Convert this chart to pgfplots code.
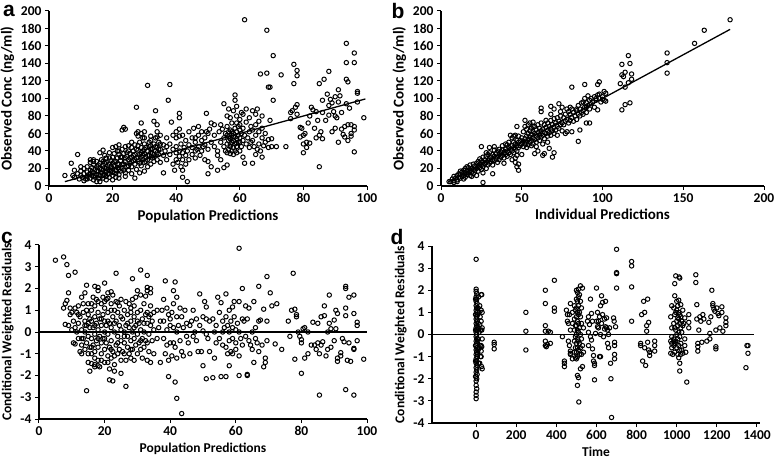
\documentclass[border=0pt]{standalone}
\usepackage{pgfplots}
\pgfplotsset{compat=1.18}
\usepackage{fontspec}
\setmainfont{Carlito}
\newfontfamily\letterfont{Liberation Sans}
\pgfplotsset{
  panel/.style={
    scale only axis,
    axis lines=left,
    axis line style={-, line width=1.3pt},
    tick style={line width=1pt, black},
    major tick length=4pt,
    tick align=outside,
    minor tick num=0,
    ticklabel style={font=\fontsize{13.5}{13.5}\selectfont\bfseries},
    /pgf/number format/assume math mode=true,
    /pgf/number format/1000 sep={},
    clip=false,
  },
  dots/.style={only marks, mark=o, mark size=2.2pt, line width=1.0pt, black},
}
\begin{document}
\begin{tikzpicture}[x=1pt,y=1pt]
\useasboundingbox (0,0) rectangle (774,461);
% ---------------- panel a
\begin{axis}[panel, at={(49pt,275pt)}, anchor=south west, width=318pt, height=175pt,
  xmin=0, xmax=100, ymin=0, ymax=200, xtick={0,20,...,100}, ytick={0,20,...,200},
  xlabel={Population Predictions}, ylabel={Observed Conc (ng/ml)},
  label style={font=\fontsize{15}{15}\selectfont\bfseries}]
\addplot[dots] coordinates {
(5,12) (7,26) (9,36) (8,10) (9,14) (9.5,8) (10,12) (10,17) (10.5,10) (11,14) (11,20) (11.5,8) (12,11) (12,16) (12,22) (8,18) (7.5,12) (10,22)
(12.5,13) (13,9) (13,18) (13,27) (13.5,12) (13.5,21) (14,7) (14,15) (14,24) (14,30) (14.5,10) (14.5,19) (15,5) (15,13) (15,22) (15,28) (15.5,9) (15.5,17) (16,12) (16,20) (16,26) (16,5) (14,28) (13,30)
(16.5,15) (16.5,30) (17,9) (17,18) (17,24) (17,41) (17.5,13) (17.5,21) (17.5,35) (18,11) (18,16) (18,27) (18,32) (18.5,19) (18.5,23) (19,10) (19,14) (19,25) (19,38) (19.5,17) (19.5,29) (20,12) (20,20) (20,26) (20,33) (20,44) (18,7) (16,38) (19,32) (17,28)
(20.5,15) (20.5,23) (20.5,37) (21,10) (21,18) (21,28) (21,45) (21.5,21) (21.5,32) (21.5,40) (22,13) (22,25) (22,36) (22,47) (22.5,17) (22.5,29) (23,20) (23,33) (23,42) (23,64) (23.5,25) (23.5,37) (23.5,67) (24,15) (24,28) (24,45) (24,65) (24.5,22) (24.5,34) (25,18) (25,30) (25,40) (25,46) (22,9) (24,11) (20,7)
(25.5,26) (25.5,37) (26,14) (26,22) (26,33) (26,44) (26.5,29) (26.5,40) (27,9) (27,25) (27,36) (27,47) (27.5,19) (27.5,32) (27.5,60) (27.5,90) (28,28) (28,41) (28,62) (28.5,15) (28.5,36) (28.5,50) (29,23) (29,33) (29,44) (29,72) (29.5,30) (29.5,40) (29.5,55) (30,17) (30,27) (30,37) (30,48) (30,62) (28,57) (29,60)
(30.5,33) (30.5,44) (31,22) (31,30) (31,40) (31,115) (31.5,35) (31.5,50) (32,25) (32,38) (32,46) (32,57) (32.5,32) (32.5,43) (33,28) (33,36) (33,48) (33,74) (33.5,40) (33.5,55) (33.5,86) (34,30) (34,44) (34,62) (34,70) (34.5,36) (34.5,50) (35,27) (35,42) (35,58) (36,15) (36,35) (36,47)
(11,6) (12,8) (13,14) (13.5,16) (14.5,12) (15,17) (15.5,24) (16,9) (16.5,19) (17,12) (17.5,26) (18,20) (18.5,14) (19,18) (19.5,22) (20,16) (20.5,28) (21,14) (21.5,25) (22,19) (22.5,33) (23,24) (23.5,18) (24,32) (24.5,38) (25,23) (25.5,32) (26,28) (26.5,35) (27,30) (27.5,42) (28,33) (28.5,26) (29,38) (29.5,35) (30,42) (30.5,28) (31,35) (31.5,45) (32,42) (32.5,37) (33,33) (33.5,45) (34,38) (34.5,42) (35,48) (22,40) (26,50) (28,46) (30,55) (32,52) (34,56)
(36.5,40) (37,30) (37,45) (37,55) (37.5,98) (38,116) (38,36) (38,48) (38.5,73) (39,25) (39,42) (39,58) (39.5,18) (40,30) (40,38) (40,45) (40,55) (40.5,27) (41,34) (41,40) (41,65) (41,78) (41,83) (41.5,22) (41.5,48) (42,10) (42,30) (42,38) (42,58) (42.5,44) (43,25) (43,35) (43,52) (43.5,5) (43.5,40) (44,30) (44,47) (44,62) (45,36) (45,44) (45,55) (41,57) (40,62) (42,18)
(45.5,66) (46,32) (46,40) (46,50) (46.5,42) (47,45) (47,58) (47,68) (47.5,35) (48,40) (48,52) (48,62) (48.5,45) (49,30) (49,47) (49,55) (49.5,83) (50,14) (50,28) (50,42) (50,60) (50.5,65) (51,22) (51,50) (51,72) (52,45) (52,58) (52,70) (53,18) (53,40) (53,35) (53.5,62) (54,30) (54,50) (54,70) (54.5,65) (55,21) (55,45) (55,55) (55,94) (55.5,60) (46,55) (49.5,62)
(56,24) (56,38) (56,48) (56,58) (56,68) (56.5,42) (56.5,52) (56.5,62) (56.5,88) (57,37) (57,45) (57,54) (57,64) (57,78) (57.5,40) (57.5,50) (57.5,58) (57.5,72) (58,36) (58,44) (58,52) (58,60) (58,86) (58.5,48) (58.5,56) (58.5,66) (58.5,98) (58.5,104) (59,38) (59,45) (59,54) (59,62) (59,72) (59,80) (59,91) (59.5,50) (59.5,58) (59.5,68) (60,40) (60,55) (60,64) (60,76) (60.5,45) (60.5,60) (60.5,84) (61,33) (61,52) (61,66) (61,82) (61.5,190) (61.5,26) (61.5,58) (62,48) (62,73) (62,88) (55.5,40) (56,80)
(57,48) (58,56) (59,49) (60,50) (57.5,62) (58.5,40) (60,70) (56.5,56)
(62.5,55) (63,44) (63,62) (63,78) (63.5,50) (63.5,68) (64,26) (64,52) (64,64) (64,86) (64.5,45) (65,36) (65,58) (65,70) (65.5,42) (65.5,88) (66,48) (66,62) (66,74) (66.5,40) (66.5,128) (67,33) (67,55) (67,66) (67.5,46) (68,50) (68,60) (68.5,129) (68.5,178) (69,44) (69,53) (69,113) (69.5,75) (69.5,113) (70,45) (70,54) (70.5,98) (70.5,149) (65,82) (67,80)
(71.5,45) (73,127) (74.5,45) (76,77) (76.5,86) (77,117) (77,139) (77.5,90) (78,126) (78,132) (78,93) (79,67) (79,56) (79.5,66) (80,38) (80,58) (80,48) (80.5,60) (81,50) (81,44) (81.5,72) (76,84) (78,82)
(82,49) (82,80) (82.5,90) (83,87) (83.5,66) (84,85) (84,55) (84.5,75) (85,58) (85,22) (85,117) (85.5,62) (86,84) (86,98) (86,54) (86.5,122) (87,75) (87.5,105) (88,81) (88,92) (88,131) (88.5,99) (89,62) (89,95) (89.5,85) (90,102) (90,80) (90,66) (90.5,78) (91,110) (91,50) (91.5,103) (92,65) (92,84) (92.5,59) (93,68) (93,56) (93.5,163) (93.5,141) (93.5,122) (93.5,94) (94,119) (94,70) (94,52) (94.5,89) (95,70) (95,60) (96,152) (96,141) (96,39) (96,68) (96,64) (97,106) (97,108) (97,96) (99,78) (95,57) (91,96)
};
\addplot[line width=1.3pt] coordinates {(5,5) (99.5,99.5)};
\end{axis}
% ---------------- panel b
\begin{axis}[panel, at={(441pt,275pt)}, anchor=south west, width=323pt, height=175pt,
  xmin=0, xmax=200, ymin=0, ymax=200, xtick={0,50,...,200}, ytick={0,20,...,200},
  xlabel={Individual Predictions}, ylabel={Observed Conc (ng/ml)},
  label style={font=\fontsize{15}{15}\selectfont\bfseries}]
\addplot[dots] coordinates {
(6,5) (7,8) (8,6) (8,11) (9,9) (10,7) (10,12) (11,10) (11,14) (12,9) (12,13) (13,11) (13,16) (14,12) (14,18) (15,10) (15,15) (15,20) (16,13) (16,17) (17,15) (17,21) (18,12) (18,18) (18,24) (19,16) (19,20) (20,14) (20,19) (20,25) (12,17) (14,8) (16,22) (10,5) (19,11)
(21,18) (21,23) (22,20) (22,26) (23,17) (23,22) (23,28) (24,21) (24,25) (24,31) (25,19) (25,24) (25,29) (26,22) (26,27) (26,33) (27,25) (27,30) (28,20) (28,27) (28,34) (29,24) (29,29) (29,36) (30,26) (30,31) (30,38) (31,28) (31,33) (32,24) (32,30) (32,36) (33,29) (33,34) (33,41) (34,31) (34,37) (35,27) (35,33) (35,40) (26,15) (22,12) (30,44) (33,45) (28,38)
(36,30) (36,36) (36,42) (37,33) (37,39) (38,35) (38,41) (38,46) (39,32) (39,38) (40,36) (40,42) (40,48) (41,34) (41,40) (42,38) (42,44) (42,50) (43,36) (43,42) (44,40) (44,46) (44,55) (45,38) (45,44) (45,50) (46,42) (46,48) (46,58) (47,40) (47,46) (47,52) (48,44) (48,50) (48,57) (49,46) (49,52) (50,36) (50,48) (50,55) (43,58) (45,57) (41,47) (39,26) (44,30) (47,35) (46,32)
(51,45) (51,51) (51,62) (52,48) (52,54) (52,68) (53,50) (53,57) (53,65) (54,47) (54,53) (54,60) (55,50) (55,56) (55,63) (55,72) (56,52) (56,59) (56,66) (57,48) (57,55) (57,62) (58,53) (58,60) (58,68) (59,50) (59,57) (59,64) (60,55) (60,61) (60,70) (61,52) (61,58) (61,66) (62,56) (62,63) (62,72) (63,58) (63,65) (64,54) (64,61) (64,70) (65,60) (65,67) (65,75) (66,57) (66,63) (66,72) (67,61) (67,68) (68,58) (68,65) (68,75) (69,63) (69,70) (70,60) (70,67) (70,77) (57,73) (53,44) (59,45) (63,48) (66,50) (60,40) (56,46) (52,75) (54,70) (57,68)
(71,64) (71,72) (72,68) (72,78) (73,66) (73,74) (74,70) (74,80) (75,63) (75,72) (76,70) (76,78) (77,74) (77,82) (78,62) (78,76) (79,72) (79,85) (80,75) (80,82) (81,78) (81,88) (82,74) (82,84) (83,80) (84,76) (84,86) (85,82) (85,92) (86,80) (86,88) (87,84) (87,95) (88,86) (88,96) (89,90) (89,100) (90,84) (90,95) (91,92) (91,103) (92,88) (92,98) (93,94) (93,100) (94,96) (95,90) (95,102) (96,98) (97,104) (98,100) (99,96) (100,102) (101,98) (102,106) (77,60) (72,58) (75,90) (80,90) (84,88) (68,82) (70,88) (74,85) (78,88)
(179,190) (163,178) (157,163) (140,152) (140,141) (140,129) (116,149) (112,139) (117,140) (118,128) (114,130) (113,125) (111,117) (112,127) (116,118) (114,113) (118,122) (117,95) (114,93) (112,87)
(98,119) (97,116) (89,116) (81,113) (98,105) (97,87) (90,90) (88,82) (92,72) (90,72) (96,100) (101,108) (102,97) (100,99)
(85,51) (81,62) (86,64) (69,33) (70,38) (67,43) (63,35) (64,37) (58,37) (48,18) (47,22) (46,27) (48,25) (47,68) (25,45) (26,4) (32,14) (5,5) (8,4) (62,89) (73,94) (68,91) (62,85)
};
\addplot[line width=1.3pt] coordinates {(5,5) (179,179)};
\end{axis}
% ---------------- panel c
\begin{axis}[panel, at={(39pt,42pt)}, anchor=south west, width=328pt, height=174pt,
  xmin=0, xmax=100, ymin=-4, ymax=4, xtick={0,20,...,100}, ytick={-4,-3,...,4},
  xlabel={Population Predictions}, ylabel={Conditional Weighted Residuals},
  label style={font=\fontsize{13.5}{13.5}\selectfont\bfseries}]
\addplot[dots] coordinates {
(10,0.1) (10.5,0.5) (10.5,-0.5) (11,1.1) (11,0.2) (11,-0.55) (11.5,0.9) (11.5,0.0) (12,0.4) (12,-0.3) (12,1.2) (12.5,-0.9) (12.5,0.7) (13,1.6) (13,0.1) (13,-0.6) (13,-1.0) (13.5,0.9) (13.5,-0.3) (13.5,1.3) (14,0.5) (14,-0.8) (14,0.0) (14,1.8) (14.5,-0.5) (14.5,0.3) (14.5,1.0) (15,-1.0) (15,0.8) (15,-0.2) (15,1.3) (15.5,0.2) (15.5,-0.7) (15.5,0.6)
(8,1.3) (8.5,1.45) (9,1.8) (8,0.35) (9,0.3) (9.5,0.8) (9.5,1.1) (10,0.9) (7.5,1.1)
(16,1.0) (16,-0.3) (16,0.5) (16,-1.0) (16.5,1.6) (16.5,0.2) (16.5,-0.6) (17,1.2) (17,0.7) (17,-0.1) (17,-0.9) (17,-1.6) (17.5,0.4) (17.5,-0.4) (17.5,1.5) (18,0.9) (18,0.1) (18,-0.7) (18,-1.3) (18,1.9) (18.5,0.6) (18.5,-0.2) (18.5,-1.6) (19,1.3) (19,0.3) (19,-0.5) (19,-1.0) (19.5,0.8) (19.5,-0.3) (19.5,1.6) (20,0.0) (20,0.5) (20,-0.8) (20,-1.4) (20,1.1) (15.5,-1.8) (16,-1.45) (17,-1.5) (18,-1.55)
(20.5,0.3) (20.5,-0.5) (20.5,1.5) (21,0.9) (21,-0.1) (21,-1.1) (21,1.8) (21.5,0.4) (21.5,-0.7) (21.5,-1.7) (22,1.3) (22,0.2) (22,-0.4) (22,-1.2) (22.5,0.7) (22.5,-0.9) (22.5,1.7) (23,0.0) (23,1.0) (23,-1.5) (23.5,0.5) (23.5,-0.6) (23.5,1.4) (24,-0.2) (24,0.9) (24,-1.0) (24.5,0.3) (24.5,1.2) (24.5,-0.8) (25,0.1) (25,-0.4) (25,1.5) (25,-1.3) (22,1.85) (21,1.55)
(25.5,0.6) (25.5,-0.9) (26,1.0) (26,0.0) (26,-0.5) (26.5,1.4) (26.5,-1.3) (26.5,0.3) (27,0.8) (27,-0.2) (27,-0.7) (27.5,1.3) (27.5,0.2) (27.5,-1.0) (28,0.5) (28,-0.4) (28,1.1) (28,-1.2) (28.5,0.0) (28.5,1.5) (28.5,-0.8) (29,0.7) (29,-0.3) (29,1.2) (29,-1.3) (29.5,0.3) (29.5,-0.6) (29.5,1.6) (30,0.9) (30,-0.1) (30,-1.0) (30,1.9) (30.5,0.4) (30.5,-0.5)
(31,1.0) (31,-0.8) (31,0.1) (31,1.7) (31.5,0.6) (31.5,-0.3) (31.5,-1.2) (32,1.3) (32,0.0) (32,-0.7) (32.5,0.8) (32.5,-0.4) (32.5,1.65) (33,0.4) (33,-1.3) (33,1.9) (33,0.9) (33.5,0.7) (33.5,-0.1) (33.5,-0.9) (34,1.2) (34,0.3) (34,-1.4) (34,1.8) (34.5,0.5) (34.5,-0.4) (35,0.9) (35,-1.0) (35,0.1) (33,2.05) (34,2.0)
(12,0.8) (13,-0.3) (14,0.3) (15,0.4) (16,-0.7) (17,0.3) (18,-0.3) (19,0.6) (20,-0.3) (21,0.5) (22,-0.8) (23,0.4) (24,-0.5) (25,0.7) (26,-0.2) (27,0.4) (28,-0.8) (29,0.2) (30,0.5) (31,-0.4) (32,0.4) (33,-0.5) (34,0.8) (16,1.3) (18,1.4) (20,1.4) (22,1.0) (24,1.35) (26,-1.0) (28,0.9) (19,-1.3) (21,-1.4) (23,-1.1) (17,-1.2) (15,-1.4)
(36,1.0) (36,-0.3) (36.5,0.2) (37,-1.4) (37,0.5) (37.5,1.0) (38,-0.3) (38,0.5) (38,1.5) (38.5,-1.0) (39,0.1) (39,-0.6) (39,1.1) (39.5,0.8) (39.5,-1.3) (40,0.3) (40,-0.5) (40,0.6) (40.5,-1.1) (40.5,0.9) (41,0.2) (41,-0.5) (41,1.3) (41.5,-0.7) (42,0.0) (42,0.7) (42,-1.2) (42.5,0.3) (43,-0.4) (43,1.1) (43.5,0.7) (43.5,-0.9) (44,0.2) (44,-1.1) (44.5,1.0) (45,-0.2) (45,0.4) (45.5,-0.5) (46,0.3) (46,-1.0) (46.5,0.5) (47,1.0) (47,-0.2) (47.5,0.0) (48,0.6) (48,-0.4) (48.5,-0.9) (49,0.3) (49,1.75) (49.5,-0.9) (50,0.7) (50,0.05) (50,-1.55)
(50.5,1.4) (51,1.15) (51,0.6) (51,-0.1) (51.5,-0.3) (52,0.5) (52,-0.9) (53,0.6) (53.5,0.0) (53.5,-1.2) (54,0.3) (54,-0.5) (54.5,1.6) (55,0.9) (55,-0.3) (55.5,1.35) (56,0.5) (56,-0.6) (56,0.0) (56.5,0.2) (57,-0.7) (57,0.7) (57,1.75) (57.5,-1.0) (57.5,0.3) (58,0.0) (58,-0.4) (58,1.0) (58,-1.55) (58.5,0.5) (58.5,-0.9) (59,1.15) (59,0.2) (59,-0.3) (59,-1.0) (59.5,0.7) (59.5,1.4) (60,-0.5) (60,0.1) (60,-0.8) (60.5,0.4) (61,-1.1) (61,0.0) (61,1.4) (61.5,-0.3) (62,0.6) (62,-0.6) (62.5,0.5) (63,-0.2) (63,1.2) (63.5,0.6) (64,-0.4) (64,1.1) (64.5,-0.6) (65,0.0) (65,-0.8) (65.5,1.4) (65.5,-1.4) (66,-0.3) (66,0.2) (66.5,-0.5) (67,0.5) (67,-0.9) (67.5,0.55) (68,-0.6) (68.5,-1.6) (68.5,1.05) (69,-1.4) (69,-1.2) (69.5,0.5) (69.5,-0.4)
(71,1.2) (72,-0.55) (74,-0.8) (76,0.5) (76.5,-0.2) (77,1.0) (78,-1.25) (78,1.05) (78.5,0.7) (78.5,0.8) (79,0.0) (79.5,-0.2) (80,-0.5) (80,-0.35) (80.5,0.15) (81,-1.2) (81,0.2) (82,-1.0) (82,0.0) (83,-0.6) (83.5,0.45) (84,-0.6) (84.5,-0.8) (85,0.4) (85,-0.5) (85.5,-1.0) (86,0.7) (86,-0.6) (86.5,-0.45) (87,1.2) (87,0.75) (87.5,-1.1) (88,0.0) (88,-0.8) (88.5,0.4) (89,0.15) (89,-0.7) (90,0.55) (90,-0.4) (90.5,0.15) (91,-1.2) (91,-1.35) (91,0.85) (92,-0.95) (92,-1.1) (92.5,-0.3) (93,-0.45) (93.5,0.75) (94,-1.3) (94.5,-0.5) (95,-1.35) (96,-0.75) (96,-0.8) (96,0.85) (97,0.45) (97,0.3) (97,-0.4)
(5,3.3) (7.5,3.45) (8.5,3.1) (9,2.6) (11,2.75) (23.5,2.7) (31,2.85) (33,2.6) (28.5,2.45) (38.5,2.35) (41.5,2.3) (41,1.9) (42,1.6)
(61,3.85) (69.5,2.55) (77.5,2.7) (67,2.1) (62,2.0) (70.5,1.8) (72.5,1.3) (93.5,2.1) (93.5,2.0) (96,1.7) (94.5,1.6) (88.5,1.7) (90.5,1.0) (93.5,1.1)
(14.5,-2.7) (26.5,-2.5) (21.5,-2.2) (22.5,-2.25) (23,-1.8) (25,-1.9) (42,-3.05) (43.5,-3.75) (41.5,-2.3) (39.5,-2.05)
(51,-2.15) (53,-2.1) (55.5,-2.05) (57,-2.05) (61,-2.0) (63.5,-1.95) (63.5,-2.0) (85.5,-2.9) (93.5,-2.65) (96,-2.9) (80,-1.9) (99,-1.25)
(14.5,2.15) (17,2.1) (18,2.05) (20,2.25)
};
\addplot[line width=1.3pt] coordinates {(0,0) (100,0)};
\end{axis}
% ---------------- panel d
\begin{axis}[panel, at={(432pt,38pt)}, anchor=south west, width=328pt, height=177pt,
  xmin=-220, xmax=1415, ymin=-4, ymax=4, xtick={0,200,...,1400}, ytick={-4,-3,...,4},
  xlabel={Time}, ylabel={Conditional Weighted Residuals},
  label style={font=\fontsize{13.5}{13.5}\selectfont\bfseries}]
\addplot[dots] coordinates {
(0,3.4) (0,2.05) (0,1.95) (0,1.7) (0,1.5) (0,1.3) (0,1.1) (0,0.9) (0,0.7) (0,0.5) (0,0.3) (0,0.1) (0,-0.1) (0,-0.3) (0,-0.5) (0,-0.7) (0,-0.9) (0,-1.1) (0,-1.3) (0,-1.5) (0,-1.7) (0,-1.9) (0,-2.1) (0,-2.3) (0,-2.6) (0,-2.75) (0,-2.9)
(3,1.85) (3,1.6) (3,1.2) (3,0.8) (3,0.4) (3,0.0) (3,-0.4) (3,-0.8) (3,-1.2) (3,-1.6) (3,-2.0) (3,-2.45) (5,1.4) (5,1.0) (5,0.6) (5,0.2) (5,-0.2) (5,-0.6) (5,-1.0) (5,-1.4) (5,-1.8)
(-3,1.6) (-3,0.9) (-3,0.2) (-3,-0.5) (-3,-1.2) (-3,-1.9) (8,0.9) (8,0.3) (8,-0.3) (8,-0.9) (10,1.2) (10,0.5) (10,-0.2) (10,-0.7) (12,1.7) (12,-1.3) (15,1.0) (15,0.1) (15,-0.6) (18,1.3) (18,0.45) (20,-0.5) (20,0.8) (22,-1.0) (22,0.2)
(25,1.8) (25,1.1) (25,0.6) (25,-0.5) (25,-0.75) (28,1.8) (28,0.2) (28,-0.55) (30,1.0) (30,0.3) (30,-0.2) (30,-1.55) (27,-1.45) (25,-1.0) (18,-1.3)
(90,-0.35) (90,-0.45) (90,-0.65) (248,1.0) (248,0.15) (248,-0.7)
(345,2.0) (345,1.4) (345,0.4) (345,0.15) (345,-0.3) (345,-0.5) (350,-0.55) (355,-0.45) (360,0.15) (370,0.1) (370,-0.4) (390,2.45) (390,1.2) (390,1.05)
(430,-0.1) (440,-1.2) (440,-1.3) (440,-1.45) (450,1.1) (455,0.9) (455,0.6) (460,0.5) (460,-0.3) (465,-0.5) (470,-0.85) (470,-0.75)
(490,1.3) (490,0.7) (490,0.2) (490,-0.3) (490,-0.8) (495,1.1) (495,0.4) (495,-0.1) (495,-0.6) (495,-1.05) (500,2.0) (500,1.6) (500,1.2) (500,0.8) (500,0.4) (500,0.0) (500,-0.4) (500,-0.8) (500,-1.1)
(505,1.9) (505,1.5) (505,1.0) (505,0.6) (505,0.2) (505,-0.2) (505,-0.6) (505,-1.0) (505,-1.85) (505,-2.3) (510,2.05) (510,1.7) (510,1.3) (510,0.9) (510,0.5) (510,0.1) (510,-0.3) (510,-0.7) (510,-1.95) (512,-3.05)
(515,1.8) (515,1.0) (515,0.3) (515,-0.4) (515,-0.9) (520,2.2) (520,1.5) (520,0.8) (520,0.0) (520,-0.6) (520,-1.55) (525,1.2) (525,0.5) (525,-0.2) (525,-0.9) (530,2.1) (530,-0.5) (530,-1.45) (535,0.3) (535,-0.8) (480,-1.1) (480,0.5) (480,1.0) (470,1.4) (470,0.2) (470,-0.9) (465,0.9)
(555,0.6) (560,0.8) (570,1.6) (575,-0.25) (580,-0.65) (585,-0.95) (585,-1.2) (590,-2.05) (595,0.05) (600,2.1) (605,1.0) (610,0.6) (615,-1.0) (620,1.3) (625,1.75) (630,1.45) (640,0.7) (645,1.5) (650,0.3) (655,0.2) (660,-0.6) (670,-1.3) (672,-2.0) (675,-3.75)
(685,0.75) (688,0.6) (690,-0.35) (690,-0.5) (690,-0.9) (690,-1.1) (695,0.35) (700,3.85) (700,2.8) (700,2.75) (700,2.1)
(610,0.3) (615,0.8) (620,0.0) (625,0.5) (630,0.9) (635,-0.1) (640,0.25) (645,0.35) (650,0.75) (655,-0.4) (660,0.0) (665,0.3) (560,0.1) (560,-0.5) (565,0.45) (570,-0.1) (575,0.95) (580,0.6) (590,-1.3) (590,-1.4) (600,0.6) (605,0.35) (620,-1.0)
(775,3.3) (775,3.1) (775,2.15) (775,0.6)
(820,-0.4) (820,-0.5) (825,0.9) (830,-1.2) (835,1.5) (840,1.0) (840,-0.6) (845,-1.4) (850,0.4) (850,0.15) (855,1.6) (855,-0.35) (860,0.55) (860,-0.7) (865,-0.8) (865,-0.95) (890,-0.3) (890,-0.5) (890,-0.75)
(975,1.3) (975,0.3) (975,-0.1) (975,-0.4) (975,-0.6) (980,-0.9) (985,-0.3) (990,1.75) (990,2.3) (995,2.65) (1000,1.1) (1005,0.75) (1010,1.55) (1012,2.6) (1015,2.55) (1020,1.35) (1020,0.3) (1025,-0.7) (1030,-0.85) (1040,-0.2) (1045,-0.8) (1050,-2.15) (1060,0.9) (1060,0.55) (1060,0.3) (1015,-1.3) (1015,-1.65)
(985,1.2) (985,0.5) (985,-0.2) (985,-0.5) (990,0.9) (990,0.3) (990,-0.4) (990,-0.8) (995,1.0) (995,0.2) (995,-0.3) (1000,1.5) (1000,0.6) (1000,0.0) (1000,-0.6) (1005,1.3) (1005,0.4) (1005,-0.2) (1005,-0.9) (1010,1.0) (1010,0.7) (1010,0.1) (1010,-0.5) (1010,-1.05)
(1015,0.9) (1015,0.5) (1015,-0.1) (1015,-0.7) (1020,0.8) (1020,-0.4) (1020,-0.9) (1025,0.6) (1025,0.1) (1030,1.1) (1030,0.4) (1035,0.5) (1040,0.75) (1040,-0.5) (970,0.8) (970,-0.3) (970,-0.85)
(1095,2.7) (1095,2.35) (1100,1.35) (1100,0.7) (1105,-0.4) (1105,-0.55) (1105,-0.75) (1110,0.2) (1115,0.8) (1120,0.6) (1125,-0.35) (1130,0.9) (1135,0.7) (1150,-0.3) (1160,0.55) (1165,0.05) (1165,-0.2) (1170,0.8) (1175,2.0) (1180,1.3) (1180,1.4) (1185,1.15) (1190,1.05) (1195,0.2) (1195,-0.55) (1195,-0.65) (1200,1.2) (1205,0.95) (1210,0.85) (1215,0.3) (1225,1.25) (1225,1.0) (1230,0.15) (1245,0.75) (1245,0.55) (1245,0.4)
(1350,-0.5) (1355,-0.5) (1355,-0.85) (1345,-1.5)
};
\addplot[line width=1.3pt] coordinates {(-220,0) (1385,0)};
\end{axis}
% panel letters
\node[font=\letterfont\fontsize{21}{21}\selectfont\bfseries] at (9,450) {a};
\node[font=\letterfont\fontsize{21}{21}\selectfont\bfseries] at (398,450) {b};
\node[font=\letterfont\fontsize{21}{21}\selectfont\bfseries] at (7,223) {c};
\node[font=\letterfont\fontsize{21}{21}\selectfont\bfseries] at (397,224) {d};
\end{tikzpicture}
\end{document}
